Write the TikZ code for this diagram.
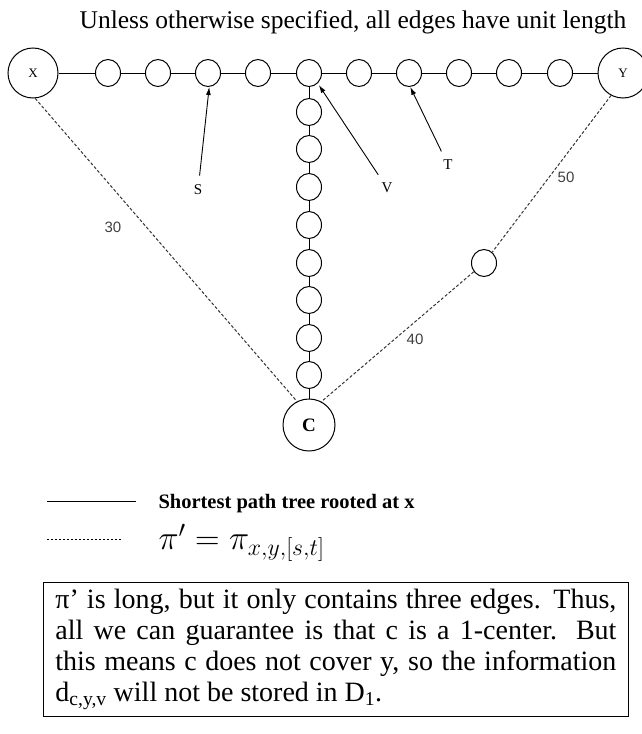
\RequirePackage{fix-cm}
\documentclass[tikz,border=0pt]{standalone}
\usepackage{fontspec}
\setmainfont{Liberation Serif}
\newfontfamily\numfont{Liberation Sans}
\usetikzlibrary{shapes.geometric,arrows.meta}

\begin{document}
\begin{tikzpicture}[x=1pt,y=-1pt,line width=1pt]
		\tikzset{vtx/.style={ellipse, draw, minimum width=25pt, minimum height=27pt, inner sep=0pt},
			bigv/.style={circle, draw, minimum size=50pt, inner sep=0pt},
			tag/.style={font=\fontsize{15}{15}\selectfont, inner sep=1pt},
			wt/.style={font=\numfont\fontsize{15}{15}\selectfont, text=black!75},
			pth/.style={dash pattern=on 3pt off 2pt, black!80},
			pnt/.style={-{Latex[length=8pt,width=5pt]}, line width=0.9pt}}
		\useasboundingbox (0,0) rectangle (642,734);
		\node[font=\fontsize{25.5}{28}\selectfont] (title) at (353,22) {Unless otherwise specified, all edges have unit length};
		% top row
		\node[bigv,tag,font=\fontsize{13}{13}\selectfont] (X) at (33,73) {X};
		\node[vtx] (a1) at (108,73) {};
		\node[vtx] (a2) at (158,73) {};
		\node[vtx] (s) at (208,73) {};
		\node[vtx] (a4) at (258,73) {};
		\node[vtx] (v) at (309,73) {};
		\node[vtx] (a6) at (359,73) {};
		\node[vtx] (t) at (409,73) {};
		\node[vtx] (a8) at (459,73) {};
		\node[vtx] (a9) at (509,73) {};
		\node[vtx] (a10) at (560,73) {};
		\node[bigv,tag,font=\fontsize{13}{13}\selectfont] (Y) at (623,73) {Y};
		\draw (X) -- (a1);
		\draw (a1) -- (a2);
		\draw (a2) -- (s);
		\draw (s) -- (a4);
		\draw (a4) -- (v);
		\draw (v) -- (a6);
		\draw (a6) -- (t);
		\draw (t) -- (a8);
		\draw (a8) -- (a9);
		\draw (a9) -- (a10);
		\draw (a10) -- (Y);
		% branch down from v
		\node[vtx] (b1) at (309,112) {};
		\node[vtx] (b2) at (309,149) {};
		\node[vtx] (b3) at (309,187) {};
		\node[vtx] (b4) at (309,225) {};
		\node[vtx] (b5) at (309,263) {};
		\node[vtx] (b6) at (309,300) {};
		\node[vtx] (b7) at (309,338) {};
		\node[vtx] (b8) at (309,375) {};
		\node[bigv,minimum size=52pt,font=\fontsize{19}{19}\selectfont\bfseries] (C) at (309,425) {C};
		\draw (v) -- (b1);
		\draw (b1) -- (b2);
		\draw (b2) -- (b3);
		\draw (b3) -- (b4);
		\draw (b4) -- (b5);
		\draw (b5) -- (b6);
		\draw (b6) -- (b7);
		\draw (b7) -- (b8);
		\draw (b8) -- (C);
		% long path
		\node[vtx] (w) at (484,263) {};
		\draw[pth] (X.-85) -- (C.117);
		\draw[pth] (Y.-118) -- (w);
		\draw[pth] (w) -- (C.62);
		\node[wt] (l30) at (113,227) {30};
		\node[wt] (l50) at (566,177) {50};
		\node[wt] (l40) at (415,339) {40};
		% pointers
		\node[tag] (S) at (198,190) {S};
		\node[tag] (V) at (387,188) {V};
		\node[tag] (T) at (448,165) {T};
		\draw[pnt,shorten <=8pt] (S) -- (s.-85);
		\draw[pnt,shorten <=8pt,shorten >=2pt] (V) -- (v.-50);
		\draw[pnt,shorten <=8pt] (T) -- (t.-85);
		% legend
		\coordinate (k1) at (47,501);
		\coordinate (k2) at (136,501);
		\coordinate (k3) at (47,539);
		\coordinate (k4) at (121,539);
		\draw[line width=0.8pt] (k1) -- (k2);
		\draw[line width=0.8pt, dash pattern=on 2pt off 2pt] (k3) -- (k4);
		\node[anchor=west,inner sep=0pt,font=\fontsize{20.5}{20.5}\selectfont\bfseries] (leg1) at (158,504) {Shortest path tree rooted at x};
		\node[anchor=west,inner sep=0pt,font=\fontsize{34}{34}\selectfont] (leg2) at (158,543) {$\pi' = \pi_{x,y,[s,t]}$};
		% note
		\node[draw, line width=0.8pt, anchor=north west, minimum width=585pt, minimum height=134pt,
			text width=561pt, inner xsep=12pt, align=justify,
			font=\fontsize{28}{31}\selectfont] (note) at (43,582)
			{π’ is long, but it only contains three edges. Thus,\linebreak all we can guarantee is that c is a 1-center. But\linebreak this means c does not cover y, so the information\linebreak d\textsubscript{c,y,v} will not be stored in D\textsubscript{1}.};
	\end{tikzpicture}
\end{document}
